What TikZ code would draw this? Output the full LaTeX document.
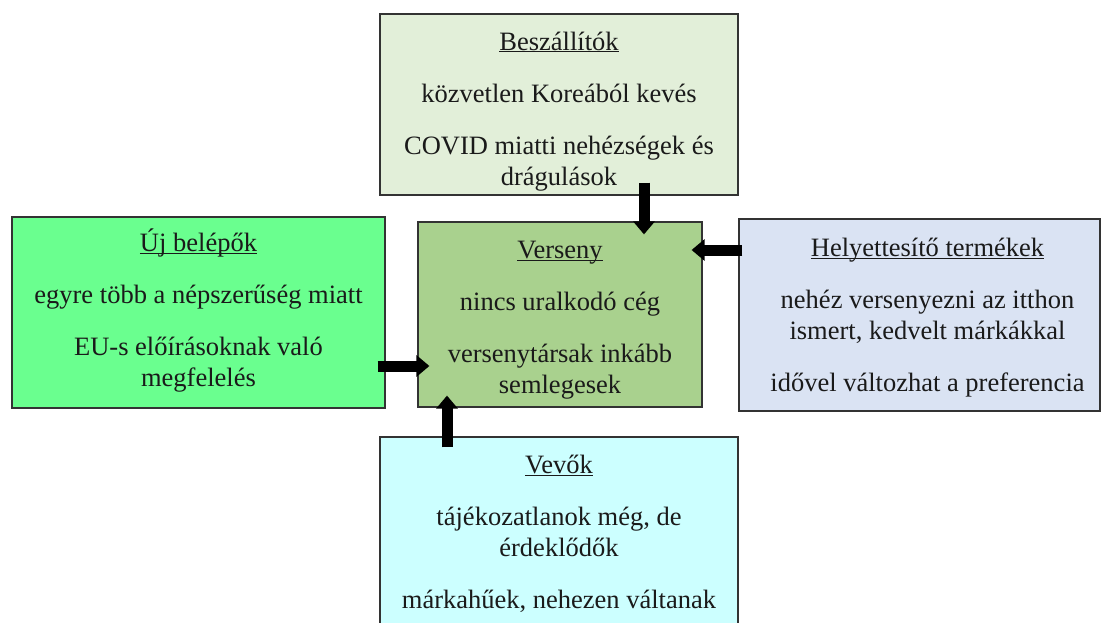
\documentclass[tikz,border=0pt]{standalone}
\usepackage{fontspec}
\setmainfont{Liberation Serif}
\usetikzlibrary{arrows.meta}
\definecolor{cbesz}{HTML}{E2EFD9}
\definecolor{cuj}{HTML}{6AFF8F}
\definecolor{cver}{HTML}{A9D18E}
\definecolor{chely}{HTML}{DAE3F3}
\definecolor{cvevo}{HTML}{CCFFFF}
\definecolor{bordc}{HTML}{333333}
\definecolor{textc}{HTML}{1A1A1A}
\newcommand\ulx[1]{\underline{\raisebox{0pt}[\height][0pt]{#1}}}
\begin{document}
\begin{tikzpicture}[x=1pt,y=-1pt,
  box/.style={draw=bordc, line width=1.2pt, inner sep=0pt},
  txt/.style={align=center, inner sep=0pt, anchor=north, text=textc,
    font=\fontsize{26.5}{31}\selectfont},
  bigarrow/.style={line width=11pt, black,
    -{Triangle[width=21pt,length=13pt]}}]
\useasboundingbox (0,0) rectangle (1101,623);
\fill[white] (0,0) rectangle (1101,623);

\node[box, fill=cbesz, minimum width=358pt, minimum height=181pt] (besz) at (559,104.5) {};
\node[box, fill=cuj, minimum width=373pt, minimum height=191pt] (uj) at (198.5,312.5) {};
\node[box, fill=cver, minimum width=284pt, minimum height=185pt] (ver) at (560,314.5) {};
\node[box, fill=chely, minimum width=361pt, minimum height=192pt] (hely) at (919.5,315) {};
\node[box, fill=cvevo, minimum width=358pt, minimum height=203pt] (vevo) at (559,538.5) {};

\node[txt, yshift=-15pt] (beszt) at (besz.north)
  {\strut\ulx{Beszállítók}\\[21pt]
   közvetlen Koreából kevés\\[21pt]
   COVID miatti nehézségek és\\
   drágulások};
\node[txt, yshift=-12pt] (ujt) at (uj.north)
  {\strut\ulx{Új belépők}\\[21pt]
   egyre több a népszerűség miatt\\[21pt]
   EU-s előírásoknak való\\
   megfelelés};
\node[txt, yshift=-15pt] (vert) at (ver.north)
  {\strut\ulx{Verseny}\\[21pt]
   nincs uralkodó cég\\[21pt]
   versenytársak inkább\\
   semlegesek};
\node[txt, yshift=-16pt, xshift=8pt] (helyt) at (hely.north)
  {\strut\ulx{Helyettesítő termékek}\\[21pt]
   nehéz versenyezni az itthon\\
   ismert, kedvelt márkákkal\\[21pt]
   idővel változhat a preferencia};
\node[txt, yshift=-15pt] (vevot) at (vevo.north)
  {\strut\ulx{Vevők}\\[21pt]
   tájékozatlanok még, de\\
   érdeklődők\\[21pt]
   márkahűek, nehezen váltanak};

\draw[bigarrow] ([xshift=85pt,yshift=13pt]besz.south) -- ([xshift=84pt,yshift=-13pt]ver.north);
\draw[bigarrow] ([xshift=-8pt,yshift=-53.5pt]uj.east) -- ([xshift=12pt,yshift=-51.5pt]ver.west);
\draw[bigarrow] ([xshift=4pt,yshift=65pt]hely.west) -- ([xshift=-11pt,yshift=64.5pt]ver.east);
\draw[bigarrow] ([xshift=-112pt,yshift=-11pt]vevo.north) -- ([xshift=-113pt,yshift=12pt]ver.south);
\end{tikzpicture}
\end{document}
